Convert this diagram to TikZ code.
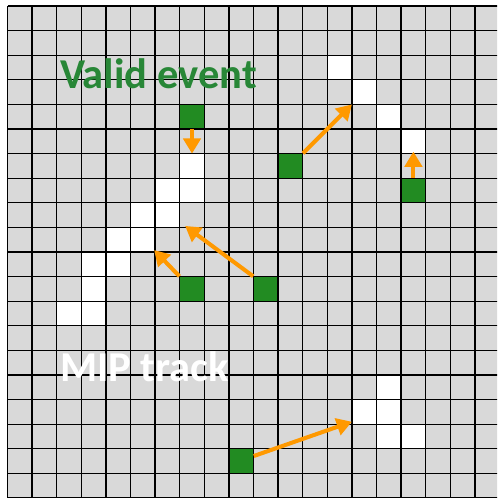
\documentclass[tikz,border=0pt]{standalone}
\usepackage{fontspec}
\setmainfont{Carlito}
\usetikzlibrary{arrows.meta}
\definecolor{cellgray}{RGB}{217,217,217}
\definecolor{hitgreen}{RGB}{34,139,34}
\definecolor{txtgreen}{RGB}{40,135,55}
\definecolor{arrorange}{RGB}{255,153,0}

\begin{document}
\begin{tikzpicture}[x=0.6cm,y=-0.6cm,
  hit/.style={fill=hitgreen,minimum size=0.6cm,inner sep=0pt},
  arr/.style={draw=arrorange,line width=2.8pt,-{Triangle[length=0.37cm,width=0.42cm]}},
  lab/.style={font=\bfseries\fontsize{29.5}{32}\selectfont,anchor=base west,inner sep=0pt}]
 \useasboundingbox (-0.305,-0.244) rectangle (19.9,20.0);
 \begin{scope}
  \clip (-0.305,-0.244) rectangle (19.9,20.0);
  \fill[cellgray] (0,0) rectangle (20,20);
  % fired cells of the tracks
  \foreach \c/\r in {7/6,6/7,7/7,5/8,6/8,4/9,5/9,3/10,4/10,3/11,2/12,3/12,
    13/2,14/3,15/4,16/5,15/15,14/16,15/16,15/17,16/17}
    \fill[white] (\c,\r) rectangle ++(1,1);
  % isolated hits
  \node[hit] (g1) at (7.5,4.5) {};
  \node[hit] (g2) at (11.5,6.5) {};
  \node[hit] (g3) at (16.5,7.5) {};
  \node[hit] (g4) at (7.5,11.5) {};
  \node[hit] (g5) at (10.5,11.5) {};
  \node[hit] (g6) at (9.5,18.5) {};
  \foreach \i in {0,...,20} {
    \draw[line width=0.9pt] (\i,0) -- (\i,20);
    \draw[line width=0.9pt] (0,\i) -- (20,\i);
  }
 \end{scope}
 \coordinate (t1) at (7.5,6);
 \coordinate (t2) at (14,4);
 \coordinate (t3) at (16.5,5.92);
 \coordinate (t4) at (5.96,9.92);
 \coordinate (t5) at (7.22,8.94);
 \coordinate (t6) at (14,16.9);
 \draw[arr] (g1.south) -- (t1);
 \draw[arr] (g2.north east) -- (t2);
 \draw[arr] (g3.north) -- (t3);
 \draw[arr] (g4.north west) -- (t4);
 \draw[arr] (g5.north west) -- (t5);
 \draw[arr] (g6.22) -- (t6);
 \node[lab,text=txtgreen] (valid) at (2.13,3.37) {Valid event};
 \node[lab,text=white] (mip) at (2.13,15.26) {MIP track};
\end{tikzpicture}
\end{document}
